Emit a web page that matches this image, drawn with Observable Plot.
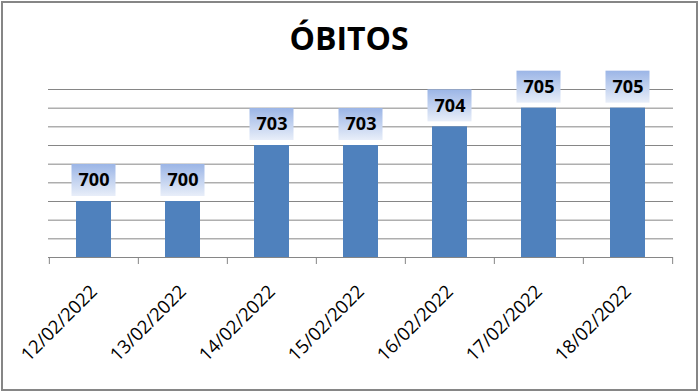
<!DOCTYPE html>
<html>
<head>
<meta charset="utf-8">
<script src="https://cdn.jsdelivr.net/npm/d3@7"></script>
<script src="https://cdn.jsdelivr.net/npm/@observablehq/plot@0.6"></script>
<style>
  html, body { margin: 0; padding: 0; background: #fff; }
  #wrap { position: relative; width: 698px; height: 391px; overflow: hidden; }
  #frame { position: absolute; left: 1px; top: 1px; width: 693px; height: 386px; border: 2.5px solid #868686; box-sizing: content-box; pointer-events: none; }
  #title { position: absolute; left: 0; top: 17px; width: 698px; text-align: center; font-family: "Open Sans", sans-serif; font-weight: 700; font-size: 32px; color: #000; line-height: 42px; }
  #chart { position: absolute; left: 0; top: 0; }
</style>
</head>
<body>
<div id="wrap">
  <div id="chart"></div>
  <div id="title">ÓBITOS</div>
  <div id="frame"></div>
</div>
<script>
const dates = ["12/02/2022", "13/02/2022", "14/02/2022", "15/02/2022", "16/02/2022", "17/02/2022", "18/02/2022"];
const obitos = [700, 700, 703, 703, 704, 705, 705];
const yTicks = [697, 698, 699, 700, 701, 702, 703, 704, 705, 706];

const data = dates.map((d, i) => ({date: d, value: obitos[i]}));

const W = 698, H = 391;
const mL = 48, mR = 25, mT = 89, mB = 134;
const step = (W - mL - mR) / dates.length;

const plot = Plot.plot({
  width: W,
  height: H,
  marginLeft: mL,
  marginRight: mR,
  marginTop: mT,
  marginBottom: mB,
  style: {fontFamily: "'Open Sans', sans-serif", background: "transparent", overflow: "visible"},
  x: {domain: dates, paddingInner: 0.608, paddingOuter: 0.304, label: null},
  y: {domain: [697, 706], label: null},
  marks: [
    Plot.ruleY(yTicks, {stroke: "#868686", strokeWidth: 1}),
    Plot.barY(data, {x: "date", y1: 697, y2: "value", fill: "#4f81bd"}),
    Plot.ruleX(dates, {x: d => d, y1: 697, y2: 697, insetBottom: -7, dx: -step / 2, stroke: "#868686"}),
    Plot.ruleX([dates[dates.length - 1]], {x: d => d, y1: 697, y2: 697, insetBottom: -7, dx: step / 2, stroke: "#868686"}),
    Plot.barY(data, {x: "date", y1: "value", y2: "value", insetTop: -37, insetBottom: 5, insetLeft: -4.5, insetRight: -4.5, fill: "url(#lblgrad)"}),
    Plot.text(data, {x: "date", y: "value", text: d => String(d.value), dy: -21, fontSize: 18, fontWeight: 700, fill: "#000"}),
    Plot.axisX({tickSize: 0, tickPadding: 31, tickRotate: -45, fontSize: 18.5, fill: "#000"}),
    Plot.axisY({ticks: [], tickSize: 0, label: null})
  ]
});

const svg = d3.select(plot);
const defs = svg.insert("defs", ":first-child");
const g = defs.append("linearGradient").attr("id", "lblgrad").attr("x1", 0).attr("y1", 0).attr("x2", 0).attr("y2", 1);
g.append("stop").attr("offset", "0%").attr("stop-color", "#9bb5e6");
g.append("stop").attr("offset", "100%").attr("stop-color", "#e8eef9");

document.getElementById("chart").appendChild(plot);
</script>
</body>
</html>
